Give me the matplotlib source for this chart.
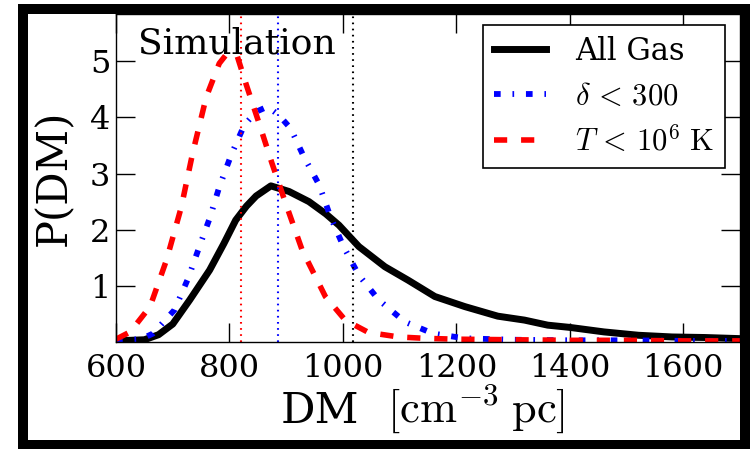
import numpy as np
import matplotlib
matplotlib.use("Agg")
import matplotlib.pyplot as plt
from matplotlib.patches import Rectangle

plt.rcParams['font.family'] = ['DejaVu Serif']
plt.rcParams['mathtext.fontset'] = 'cm'
plt.rcParams['lines.scale_dashes'] = False
plt.rcParams['axes.linewidth'] = 1.0

# all gas
dm_all = [600, 625, 650, 675, 700, 730, 765, 790, 811, 830, 847, 873, 905,
          940, 970, 993, 1028, 1074, 1115, 1162, 1215, 1273, 1320, 1361,
          1400, 1460, 1521, 1580, 1638, 1700]
p_all = [0.03, 0.03, 0.04, 0.13, 0.32, 0.75, 1.28, 1.75, 2.17, 2.42, 2.6,
         2.78, 2.68, 2.5, 2.28, 2.08, 1.70, 1.34, 1.10, 0.81, 0.63, 0.46,
         0.39, 0.30, 0.26, 0.18, 0.12, 0.09, 0.08, 0.06]

# delta < 300
dm_delta = [600, 644, 665, 703, 727, 747, 765, 782, 803, 826, 847, 867, 887,
            908, 931, 958, 978, 1001, 1028, 1063, 1109, 1159, 1215, 1300,
            1400, 1500, 1600, 1700]
p_delta = [0.03, 0.05, 0.15, 0.57, 1.13, 1.7, 2.2, 2.76, 3.33, 3.86, 4.1,
           4.19, 4.04, 3.8, 3.3, 2.8, 2.23, 1.7, 1.19, 0.75, 0.36, 0.15,
           0.065, 0.04, 0.03, 0.03, 0.02, 0.02]

# T < 1e6 K
dm_cool = [600, 625, 660, 689, 715, 735, 759, 782, 796, 814, 829, 852, 875,
           899, 928, 969, 1004, 1045, 1098, 1145, 1200, 1300, 1400, 1500,
           1600, 1700]
p_cool = [0.05, 0.18, 0.63, 1.46, 2.4, 3.36, 4.36, 4.96, 5.14, 5.08, 4.6,
          3.9, 3.18, 2.47, 1.64, 0.81, 0.39, 0.17, 0.09, 0.065, 0.05, 0.04,
          0.03, 0.03, 0.02, 0.02]

# mean DM of each distribution
mean_all, mean_delta, mean_cool = 1018, 886, 821

fig = plt.figure(figsize=(7.5, 4.49), dpi=100)
ax = fig.add_axes([0.1547, 0.2383, 0.9867 - 0.1547, 0.9688 - 0.2383])

ax.plot(dm_all, p_all, color='k', lw=5, label='All Gas')
ax.plot(dm_delta, p_delta, color='b', lw=4.2, dashes=(4.8, 8.5, 1.2, 8.5),
        dash_capstyle='butt', label=r'$\delta\, <\, 300$')
ax.plot(dm_cool, p_cool, color='r', lw=4, dashes=(9.5, 10),
        dash_capstyle='butt', label=r'$T\, <\, 10^6\ {\rm K}$')

for m, c in [(mean_cool, 'r'), (mean_delta, 'b'), (mean_all, 'k')]:
    ax.axvline(m, color=c, lw=1.5, dashes=(1.2, 3.2))

ax.set_xlim(600, 1700)
ax.set_ylim(0, 5.84)
ax.set_xticks([600, 800, 1000, 1200, 1400, 1600])
ax.set_yticks([1, 2, 3, 4, 5])
ax.tick_params(direction='in', top=True, right=True, length=13.5, width=1,
               labelsize=23)
ax.tick_params(axis='x', pad=8)
ax.tick_params(axis='y', pad=4)

# x label: text part and unit part (unit math drawn a bit larger)
ax.text(0.263, -0.247, 'DM', fontsize=31, ha='left', va='baseline',
        transform=ax.transAxes)
ax.text(0.434, -0.247, r'$[\mathrm{cm}^{-3}\;\mathrm{pc}]$', fontsize=32,
        ha='left', va='baseline', transform=ax.transAxes)
ax.set_ylabel('P(DM)', fontsize=30, labelpad=11)

ax.text(639, 5.14, 'Simulation', fontsize=26, ha='left', va='baseline')

leg = ax.legend(loc='upper right', bbox_to_anchor=(0.976, 0.966), fontsize=22,
                fancybox=False, framealpha=1, edgecolor='k', handlelength=1.7,
                handletextpad=0.95, labelspacing=0.45, borderpad=0.35,
                borderaxespad=0)
leg.get_frame().set_linewidth(1.2)

# thick outer frame
fig.patches.append(Rectangle((0.03, 0.01), 0.9633, 0.97, transform=fig.transFigure,
                             fill=False, lw=7.2, edgecolor='k', zorder=10))

fig.savefig('out.png', dpi=100)
